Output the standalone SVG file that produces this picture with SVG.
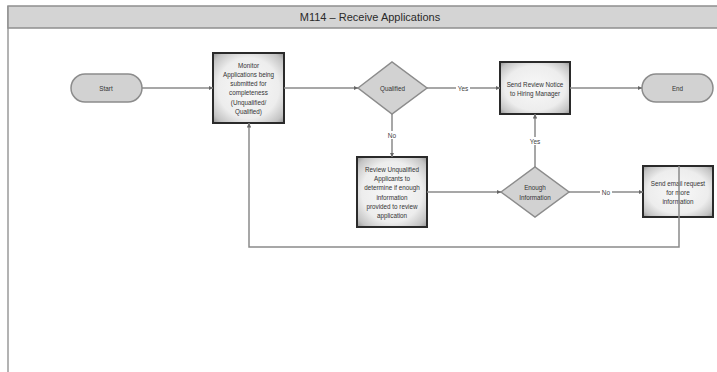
<svg xmlns="http://www.w3.org/2000/svg" width="717" height="372" viewBox="0 0 717 372">
<style>
text{font-family:"Liberation Sans","DejaVu Sans",sans-serif;fill:#333;text-anchor:middle;dominant-baseline:central}
.t{font-size:6.3px}
.lbl{font-size:6.5px;fill:#444}
.box{fill:url(#boxg);stroke:#2a2a2a;stroke-width:2}
.term{fill:#d2d2d2;stroke:#8c8c8c;stroke-width:1.5}
.dec{fill:#d2d2d2;stroke:#8c8c8c;stroke-width:1.5}
.c{fill:none;stroke:#8a8a8a;stroke-width:1.5}
</style>
<defs>
<radialGradient id="boxg" cx="50%" cy="50%" r="72%">
<stop offset="0" stop-color="#f8f8f8"/>
<stop offset="0.6" stop-color="#ededed"/>
<stop offset="0.85" stop-color="#c4c4c4"/>
<stop offset="1" stop-color="#8a8a8a"/>
</radialGradient>
<marker id="ah" viewBox="0 0 10 10" refX="10" refY="5" markerWidth="4.5" markerHeight="4.5" orient="auto" markerUnits="userSpaceOnUse">
<path d="M0,0 L10,5 L0,10 z" fill="#666"/>
</marker>
</defs>
<rect x="0" y="0" width="717" height="372" fill="#fff"/>
<g id="frame">
<line x1="8" y1="6" x2="8" y2="372" stroke="#9a9a9a" stroke-width="1.5"/>
<rect x="8" y="6" width="712" height="22" fill="#d4d4d4" stroke="#8f8f8f" stroke-width="1.5"/>
<text x="370" y="17" style="font-size:11px;fill:#2a2a2a">M114 – Receive Applications</text>
</g>
<g id="start">
<rect class="term" x="71" y="74" width="71" height="28" rx="14"/>
<text class="t" x="106" y="88">Start</text>
</g>
<g id="monitor">
<rect class="box" x="213" y="53" width="71" height="70"/>
<text class="t" x="248.5" y="65">Monitor</text>
<text class="t" x="248.5" y="74">Applications being</text>
<text class="t" x="248.5" y="83">submitted for</text>
<text class="t" x="248.5" y="92">completeness</text>
<text class="t" x="248.5" y="102">(Unqualified/</text>
<text class="t" x="248.5" y="111">Qualified)</text>
</g>
<g id="qualified">
<polygon class="dec" points="358,88 392,62 427,88 392,114"/>
<text class="t" x="392.5" y="88">Qualified</text>
</g>
<g id="sendReview">
<rect class="box" x="500" y="62" width="70" height="52"/>
<text class="t" x="535" y="84">Send Review Notice</text>
<text class="t" x="535" y="93">to Hiring Manager</text>
</g>
<g id="end">
<rect class="term" x="642" y="74" width="71" height="28" rx="14"/>
<text class="t" x="677.5" y="88">End</text>
</g>
<g id="review">
<rect class="box" x="357" y="157" width="70" height="70"/>
<text class="t" x="392" y="169">Review Unqualified</text>
<text class="t" x="392" y="178">Applicants to</text>
<text class="t" x="392" y="187">determine if enough</text>
<text class="t" x="392" y="197">information</text>
<text class="t" x="392" y="206">provided to review</text>
<text class="t" x="392" y="215">application</text>
</g>
<g id="enough">
<polygon class="dec" points="501,192 535,167 569,192 535,217"/>
<text class="t" x="535" y="187">Enough</text>
<text class="t" x="535" y="197">Information</text>
</g>
<g id="sendEmail">
<rect class="box" x="643" y="166" width="70" height="51"/>
<text class="t" x="678" y="183">Send email request</text>
<text class="t" x="678" y="192">for more</text>
<text class="t" x="678" y="201">information</text>
</g>
<g id="connectors">
<path class="c" d="M142,88 H213" marker-end="url(#ah)"/>
<path class="c" d="M284,88 H358" marker-end="url(#ah)"/>
<path class="c" d="M427,88 H500" marker-end="url(#ah)"/>
<path class="c" d="M570,88 H642" marker-end="url(#ah)"/>
<path class="c" d="M392,114 V157" marker-end="url(#ah)"/>
<path class="c" d="M427,192 H501" marker-end="url(#ah)"/>
<path class="c" d="M535,167 V114" marker-end="url(#ah)"/>
<path class="c" d="M569,192 H643" marker-end="url(#ah)"/>
<path class="c" d="M679,166 V247 H249 V123" marker-end="url(#ah)"/>
<rect x="456" y="84" width="14" height="8" fill="#fff"/>
<text class="lbl" x="463" y="88">Yes</text>
<rect x="386" y="131" width="12" height="8" fill="#fff"/>
<text class="lbl" x="392" y="135">No</text>
<rect x="528" y="137" width="14" height="8" fill="#fff"/>
<text class="lbl" x="535" y="141">Yes</text>
<rect x="600" y="188" width="12" height="8" fill="#fff"/>
<text class="lbl" x="606" y="192">No</text>
</g>
</svg>
